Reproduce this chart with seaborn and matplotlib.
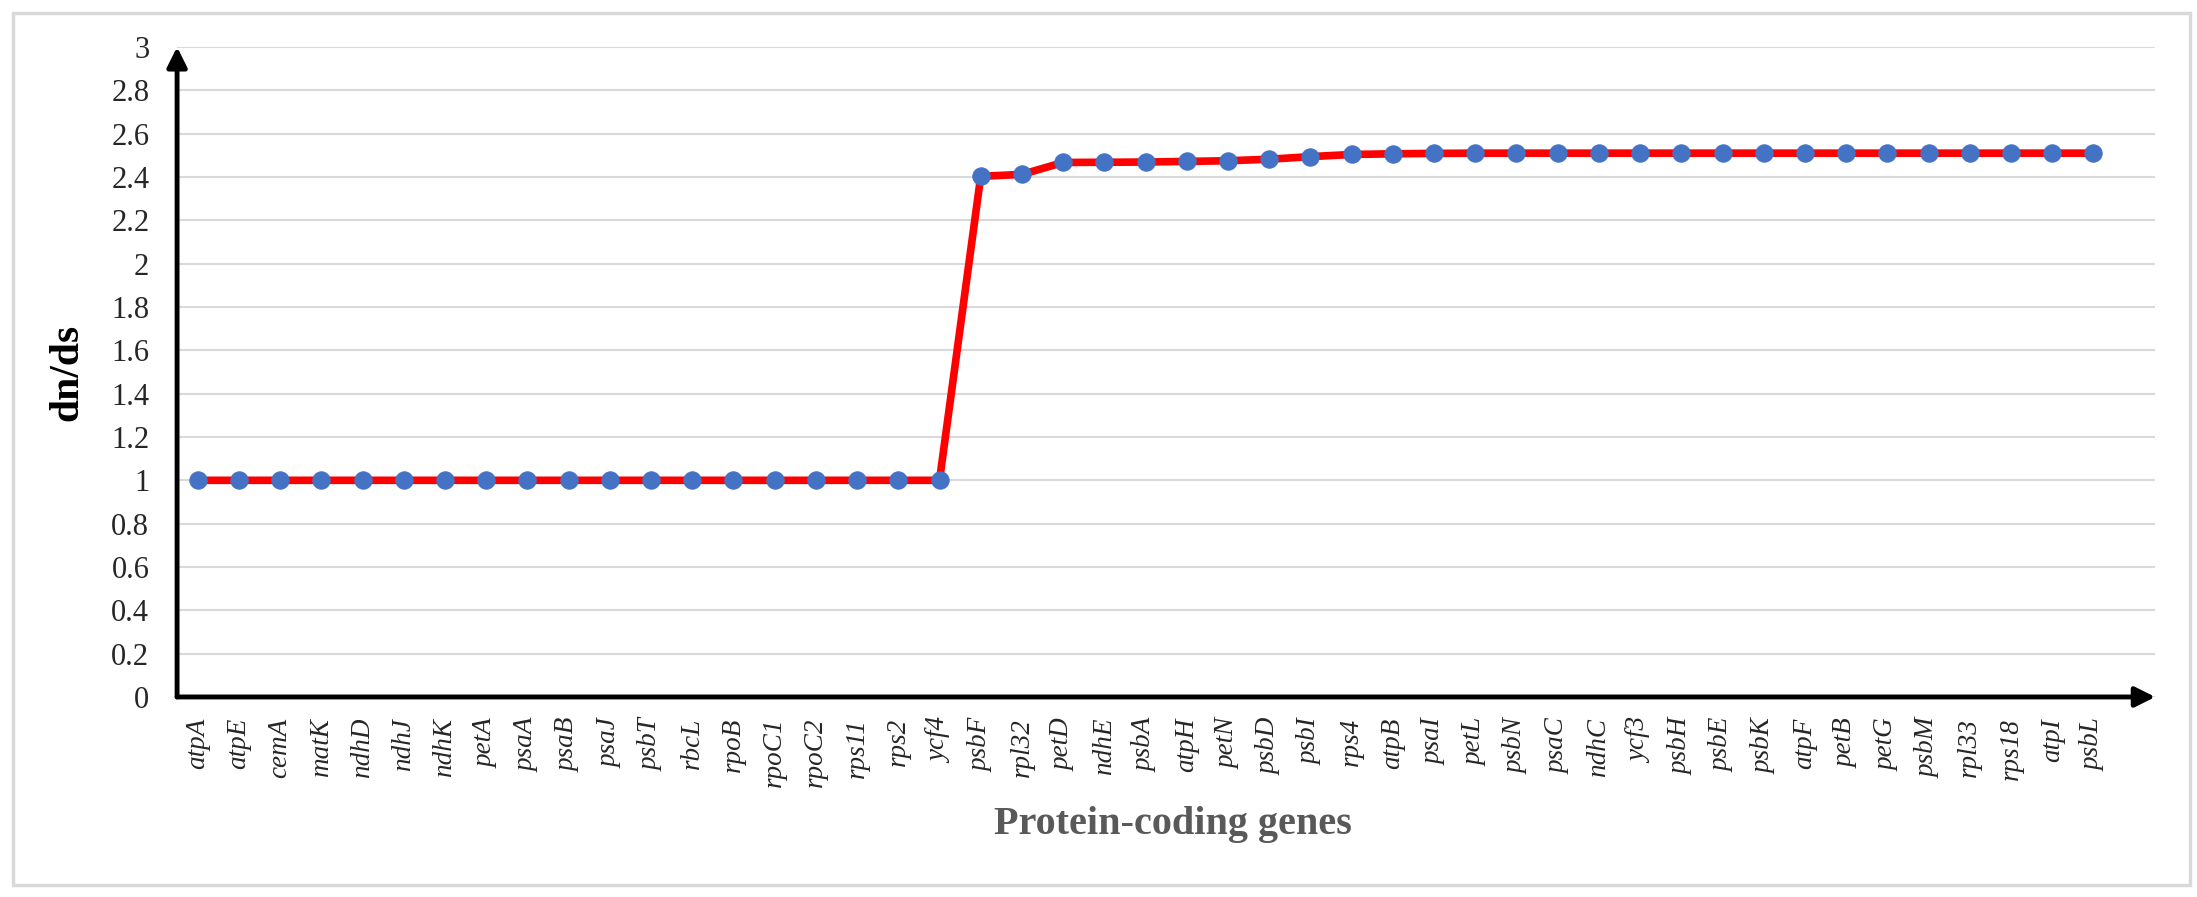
import numpy as np
import pandas as pd
import matplotlib
matplotlib.use("Agg")
import matplotlib.pyplot as plt
from matplotlib.patches import Rectangle
import seaborn as sns

genes = ['atpA', 'atpE', 'cemA', 'matK', 'ndhD', 'ndhJ', 'ndhK', 'petA', 'psaA',
         'psaB', 'psaJ', 'psbT', 'rbcL', 'rpoB', 'rpoC1', 'rpoC2', 'rps11', 'rps2',
         'ycf4', 'psbF', 'rpl32', 'petD', 'ndhE', 'psbA', 'atpH', 'petN', 'psbD',
         'psbI', 'rps4', 'atpB', 'psaI', 'petL', 'psbN', 'psaC', 'ndhC', 'ycf3',
         'psbH', 'psbE', 'psbK', 'atpF', 'petB', 'petG', 'psbM', 'rpl33', 'rps18',
         'atpI', 'psbL']
dnds = [1, 1, 1, 1, 1, 1, 1, 1, 1,
        1, 1, 1, 1, 1, 1, 1, 1, 1,
        1, 2.403, 2.412, 2.467, 2.468, 2.469, 2.472, 2.475, 2.482,
        2.494, 2.504, 2.507, 2.509, 2.51, 2.51, 2.51, 2.51, 2.51,
        2.51, 2.51, 2.51, 2.51, 2.51, 2.51, 2.51, 2.51, 2.51,
        2.51, 2.51]
yticks = [0, 0.2, 0.4, 0.6, 0.8, 1, 1.2, 1.4, 1.6, 1.8, 2, 2.2, 2.4, 2.6, 2.8, 3]
ytick_labels = ['0', '0.2', '0.4', '0.6', '0.8', '1', '1.2', '1.4', '1.6', '1.8',
                '2', '2.2', '2.4', '2.6', '2.8', '3']

sns.set_style("white")
plt.rcParams["font.family"] = ["Liberation Serif", "DejaVu Serif"]

df = pd.DataFrame({"gene": genes, "dnds": dnds})

fig = plt.figure(figsize=(21.97, 8.97), dpi=100)
ax = fig.add_axes([0.0806, 0.223, 0.9004, 0.7246])

sns.lineplot(data=df, x="gene", y="dnds", ax=ax, color="#FF0000", lw=5.5,
             marker="o", markersize=12.5, markerfacecolor="#4472C4",
             markeredgecolor="#4472C4", zorder=3)

ax.set_xlim(-0.5, len(genes) + 0.5)
ax.set_ylim(0, 3)
ax.set_yticks(yticks)
ax.set_yticklabels(ytick_labels, fontsize=22)
ax.set_xticks(range(len(genes)))
ax.set_xticklabels(genes, rotation=90, fontsize=19.5, style="italic")
ax.tick_params(axis="x", length=0, pad=15)
ax.tick_params(axis="y", direction="in", length=5, width=3, color="black", pad=20)

ax.yaxis.grid(True, color="#D9D9D9", lw=1.5)
ax.xaxis.grid(False)
for s in ax.spines.values():
    s.set_visible(False)

# axis arrows
arr = dict(arrowstyle="-|>", lw=3.5, color="black", mutation_scale=30,
           shrinkA=0, shrinkB=0)
ax.annotate("", xy=(0, 1), xytext=(0, 0), xycoords="axes fraction",
            arrowprops=arr, annotation_clip=False)
ax.annotate("", xy=(1, 0), xytext=(0, 0), xycoords="axes fraction",
            arrowprops=arr, annotation_clip=False)

ax.set_xlabel("Protein-coding genes", fontsize=29, fontweight="bold", color="#595959")
ax.set_ylabel("dn/ds", fontsize=30, fontweight="bold", color="black")
ax.xaxis.set_label_coords(0.5035, -0.168)
ax.yaxis.set_label_coords(-0.046, 0.5)

fig.patches.append(Rectangle((0.006, 0.0134), 0.991, 0.972, transform=fig.transFigure,
                             fill=False, edgecolor="#D9D9D9", lw=2.5))

fig.savefig("out.png", dpi=100)
